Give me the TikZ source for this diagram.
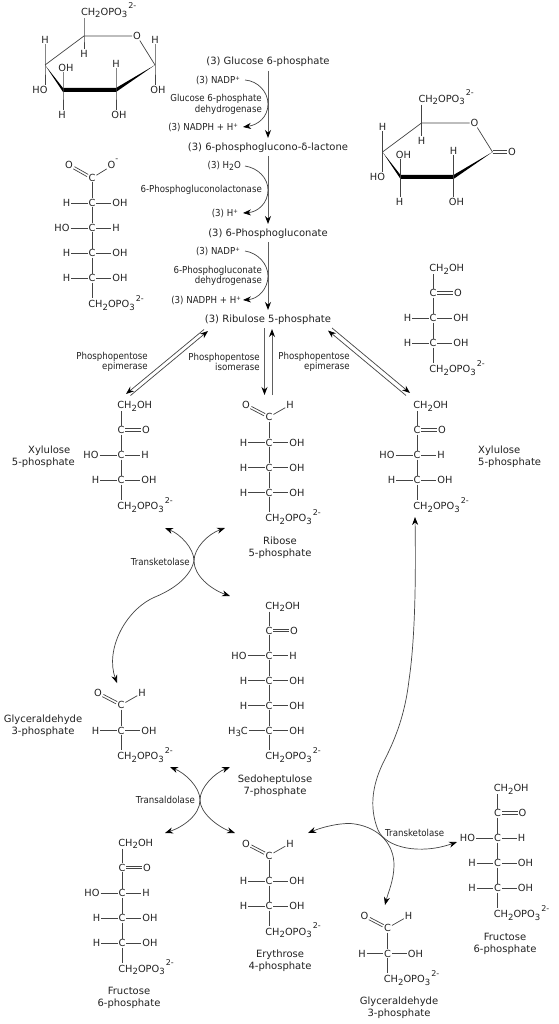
\documentclass[tikz,border=0pt]{standalone}
\usepackage{fontspec}
\usetikzlibrary{arrows.meta,calc}
\setmainfont{DejaVu Sans}
\newfontfamily\enzfont[FakeStretch=0.9]{DejaVu Sans}
\definecolor{ink}{HTML}{222222}
\definecolor{bondc}{HTML}{444444}
\definecolor{shaft}{HTML}{606060}
\newcommand\lo[1]{\raisebox{-2.5pt}{\fontsize{8.5}{8.5}\selectfont #1}}
\newcommand\hi[1]{\raisebox{6.5pt}{\fontsize{8}{8}\selectfont #1}}
\newcommand\hs[1]{\raisebox{3pt}{\fontsize{6}{6}\selectfont #1}}
\newcommand\CHP{CH\lo{2}OPO\lo{3}\kern1pt\hi{2-}}
\tikzset{
  >={Stealth[length=8pt,width=6pt,black]},
  atom/.style={inner sep=1pt,outer sep=0pt,text height=7pt,text depth=0pt,text=ink,font=\fontsize{9.8}{9.8}\selectfont},
  bond/.style={draw=bondc,line width=0.7pt},
  main/.style={inner sep=0pt,yshift=-1pt,text=ink,font=\fontsize{10}{12}\selectfont},
  name2/.style={inner sep=0pt,yshift=-1pt,text=ink,align=center,font=\fontsize{10}{12}\selectfont},
  enz/.style={inner sep=0pt,text=ink,align=right,font=\enzfont\fontsize{9.6}{10.5}\selectfont},
  side/.style={inner sep=0pt,text=ink,font=\enzfont\fontsize{9.6}{10.5}\selectfont},
  longarrow/.style={draw=shaft,line width=1pt,->},
  thinarrow/.style={draw=bondc,line width=0.7pt},
}
% double bonds: horizontal, and rising to the upper left
\newcommand\dblH[2]{\draw[bond,transform canvas={yshift=1.3pt}] (#1) -- (#2); \draw[bond,transform canvas={yshift=-1.3pt}] (#1) -- (#2);}
\newcommand\dblD[2]{\draw[bond,transform canvas={xshift=0.6pt,yshift=1.1pt}] (#1) -- (#2); \draw[bond,transform canvas={xshift=-0.6pt,yshift=-1.1pt}] (#1) -- (#2);}
% atoms and rows
\newcommand\chTop[3]{\node[atom,anchor=west] (#1) at (#2-4.6,#3) {CH\lo{2}OH}; \coordinate (#1b) at (#2,#3+6);}
\newcommand\chEnd[3]{\node[atom,anchor=west] (#1) at (#2-4.6,#3) {\CHP}; \coordinate (#1t) at (#2,#3-6);}
\newcommand\chKeto[3]{\node[atom] (#1) at (#2,#3) {C}; \node[atom] (#1o) at (#2+25,#3) {O}; \dblH{#1}{#1o}}
\newcommand\chAld[3]{\node[atom] (#1) at (#2,#3) {C}; \node[atom] (#1o) at (#2-23,#3-12) {O}; \node[atom] (#1h) at (#2+21,#3-12) {H}; \dblD{#1}{#1o} \draw[bond] (#1) -- (#1h);}
\newcommand\chHOH[3]{\node[atom] (#1) at (#2,#3) {C}; \node[atom] (#1l) at (#2-25.5,#3) {H}; \node[atom] (#1r) at (#2+28,#3) {OH}; \draw[bond] (#1l) -- (#1) -- (#1r);}
\newcommand\chOHH[3]{\node[atom] (#1) at (#2,#3) {C}; \node[atom] (#1l) at (#2-30,#3) {HO}; \node[atom] (#1r) at (#2+24,#3) {H}; \draw[bond] (#1l) -- (#1) -- (#1r);}
\newcommand\chMeth[3]{\node[atom] (#1) at (#2,#3) {C}; \node[atom] (#1l) at (#2-31,#3) {H\lo{3}C}; \node[atom] (#1r) at (#2+28,#3) {OH}; \draw[bond] (#1l) -- (#1) -- (#1r);}
\begin{document}
\begin{tikzpicture}[x=1pt,y=-1pt]
\path[use as bounding box,fill=white] (0,0) rectangle (558,1024);

% ---- glucose 6-phosphate ring
\begin{scope}
  \fill[black] (45,65) -- (63,88) -- (116,88) -- (155,65) -- (116,92) -- (63,92) -- cycle;
  \coordinate (ga5) at (84,36); \coordinate (ga1) at (155,65); \coordinate (ga2) at (116,90);
  \coordinate (ga3) at (63,90); \coordinate (ga4) at (45,65);
  \node[atom] (gaO) at (137,36) {O};
  \node[atom,anchor=west] (gaCH) at (80,12) {\CHP};
  \coordinate (gaCHb) at (84,18);
  \node[atom] (gaH5) at (84,54) {H};
  \node[atom] (gaH4) at (45,40) {H};
  \node[atom] (gaHO4) at (40,90) {HO};
  \node[atom] (gaOH3) at (66,68) {OH};
  \node[atom] (gaH3) at (62,115) {H};
  \node[atom] (gaH2) at (116,64) {H};
  \node[atom] (gaOH2) at (119,115) {OH};
  \node[atom] (gaH1) at (155,40) {H};
  \node[atom] (gaOH1) at (158,90) {OH};
  \draw[bond] (ga4) -- (ga5) -- (gaO) -- (ga1);
  \draw[bond] (gaCHb) -- (ga5) -- (gaH5);
  \draw[bond] (gaH4.south -| ga4) -- (ga4) -- (gaHO4.north -| ga4);
  \draw[bond] (gaOH3.south -| ga3) -- (ga3) -- (gaH3.north -| ga3);
  \draw[bond] (gaH2.south -| ga2) -- (ga2) -- (gaOH2.north -| ga2);
  \draw[bond] (gaH1.south -| ga1) -- (ga1) -- (gaOH1.north -| ga1);
\end{scope}

% ---- lactone ring
\begin{scope}[shift={(337.5,87)}]
  \fill[black] (45,65) -- (63,88) -- (116,88) -- (155,65) -- (116,92) -- (63,92) -- cycle;
  \coordinate (la5) at (84,36); \coordinate (la1) at (155,65); \coordinate (la2) at (116,90);
  \coordinate (la3) at (63,90); \coordinate (la4) at (45,65);
  \node[atom] (laO) at (137,36) {O};
  \node[atom] (laOd) at (174.5,65) {O};
  \node[atom,anchor=west] (laCH) at (80,12) {\CHP};
  \coordinate (laCHb) at (84,18);
  \node[atom] (laH5) at (84,54) {H};
  \node[atom] (laH4) at (45,40) {H};
  \node[atom] (laHO4) at (40,90) {HO};
  \node[atom] (laOH3) at (66,68) {OH};
  \node[atom] (laH3) at (62,115) {H};
  \node[atom] (laH2) at (116,64) {H};
  \node[atom] (laOH2) at (119,115) {OH};
  \draw[bond] (la4) -- (la5) -- (laO) -- (la1);
  \dblH{la1}{laOd}
  \draw[bond] (laCHb) -- (la5) -- (laH5);
  \draw[bond] (laH4.south -| la4) -- (la4) -- (laHO4.north -| la4);
  \draw[bond] (laOH3.south -| la3) -- (la3) -- (laH3.north -| la3);
  \draw[bond] (laH2.south -| la2) -- (la2) -- (laOH2.north -| la2);
\end{scope}

% ---- 6-phosphogluconate
\node[atom] (pgc1) at (92,178) {C};
\node[atom] (pgO) at (69,165) {O};
\node[atom] (pgOm) at (113,165) {O\hi{-}};
\dblD{pgc1}{pgO}
\draw[bond] (pgc1) -- (pgOm);
\chHOH{pgc2}{92}{203}\chOHH{pgc3}{92}{228}\chHOH{pgc4}{92}{253}\chHOH{pgc5}{92}{278}\chEnd{pgc6}{92}{304}
\draw[bond] (pgc1) -- (pgc2) -- (pgc3) -- (pgc4) -- (pgc5) -- (pgc6t);

% ---- ribulose 5-phosphate
\chTop{ru1}{433}{268}\chKeto{ru2}{433}{293}\chHOH{ru3}{433}{318}\chHOH{ru4}{433}{343}\chEnd{ru5}{433}{369}
\draw[bond] (ru1b) -- (ru2) -- (ru3) -- (ru4) -- (ru5t);

% ---- xylulose left
\chTop{xa1}{121}{405}\chKeto{xa2}{121}{430}\chOHH{xa3}{121}{455}\chHOH{xa4}{121}{480}\chEnd{xa5}{121}{506}
\draw[bond] (xa1b) -- (xa2) -- (xa3) -- (xa4) -- (xa5t);

% ---- ribose
\chAld{ri1}{269}{417}\chHOH{ri2}{269}{442.5}\chHOH{ri3}{269}{467.5}\chHOH{ri4}{269}{492.5}\chEnd{ri5}{269}{518}
\draw[bond] (ri1) -- (ri2) -- (ri3) -- (ri4) -- (ri5t);

% ---- xylulose right
\chTop{xb1}{417}{405}\chKeto{xb2}{417}{430}\chOHH{xb3}{417}{455}\chHOH{xb4}{417}{480}\chEnd{xb5}{417}{506}
\draw[bond] (xb1b) -- (xb2) -- (xb3) -- (xb4) -- (xb5t);

% ---- sedoheptulose
\chTop{se1}{269}{605.5}\chKeto{se2}{269}{630.5}\chOHH{se3}{269}{655.5}\chHOH{se4}{269}{680.5}\chHOH{se5}{269}{705.5}\chMeth{se6}{269}{730.5}\chEnd{se7}{269}{756}
\draw[bond] (se1b) -- (se2) -- (se3) -- (se4) -- (se5) -- (se6) -- (se7t);

% ---- glyceraldehyde left
\chAld{gc1}{121}{705}\chHOH{gc2}{121}{730.5}\chEnd{gc3}{121}{756}
\draw[bond] (gc1) -- (gc2) -- (gc3t);

% ---- fructose left
\chTop{fa1}{122}{842.5}\chKeto{fa2}{122}{867.5}\chOHH{fa3}{122}{893}\chHOH{fa4}{122}{918}\chHOH{fa5}{122}{943}\chEnd{fa6}{122}{968.5}
\draw[bond] (fa1b) -- (fa2) -- (fa3) -- (fa4) -- (fa5) -- (fa6t);

% ---- erythrose
\chAld{er1}{269}{855.5}\chHOH{er2}{269}{881}\chHOH{er3}{269}{906}\chEnd{er4}{269}{931.5}
\draw[bond] (er1) -- (er2) -- (er3) -- (er4t);

% ---- fructose right
\chTop{fb1}{497.5}{788}\chKeto{fb2}{497.5}{813}\chOHH{fb3}{497.5}{838}\chHOH{fb4}{497.5}{863}\chHOH{fb5}{497.5}{888}\chEnd{fb6}{497.5}{914}
\draw[bond] (fb1b) -- (fb2) -- (fb3) -- (fb4) -- (fb5) -- (fb6t);

% ---- glyceraldehyde bottom
\chAld{gb1}{387.5}{928}\chHOH{gb2}{387.5}{953.5}\chEnd{gb3}{387.5}{979}
\draw[bond] (gb1) -- (gb2) -- (gb3t);

% ---- main line labels
\node[main] (glc) at (268,61) {(3) Glucose 6-phosphate};
\node[main] (lac) at (268,147) {(3) 6-phosphoglucono-δ-lactone};
\node[main] (pgn) at (268,233) {(3) 6-Phosphogluconate};
\node[main] (rul) at (268,319) {(3) Ribulose 5-phosphate};
\coordinate (m1a) at (268,71); \coordinate (m1b) at (268,138);
\coordinate (m2a) at (268,156); \coordinate (m2b) at (268,224);
\coordinate (m3a) at (268,242); \coordinate (m3b) at (268,310);
\draw[longarrow] (m1a) -- (m1b);
\draw[longarrow] (m2a) -- (m2b);
\draw[longarrow] (m3a) -- (m3b);

% ---- side reactants
\node[side,anchor=east] (s1a) at (240,80) {(3) NADP\hs{+}};
\node[side,anchor=east] (s1b) at (238,127) {(3) NADPH + H\hs{+}};
\node[enz,anchor=east] (e1) at (262,104.5) {Glucose 6-phosphate\\dehydrogenase};
\node[side,anchor=east] (s2a) at (241,166) {(3) H\lo{2}O};
\node[side,anchor=east] (s2b) at (238,213) {(3) H\hs{+}};
\node[enz,anchor=east] (e2) at (262,190) {6-Phosphogluconolactonase};
\node[side,anchor=east] (s3a) at (240,251) {(3) NADP\hs{+}};
\node[side,anchor=east] (s3b) at (241,300) {(3) NADPH + H\hs{+}};
\node[enz,anchor=east] (e3) at (262,276) {6-Phosphogluconate\\dehydrogenase};
\draw[thinarrow,->] ([xshift=5pt]s1a.east) .. controls (258,81) and (268,92) .. (268,104) .. controls (268,117) and (258,125) .. ([xshift=5pt]s1b.east);
\draw[thinarrow,->] ([xshift=4pt]s2a.east) .. controls (258,168) and (268,178) .. (268,190) .. controls (268,203) and (258,212) .. ([xshift=5pt]s2b.east);
\draw[thinarrow,->] ([xshift=5pt]s3a.east) .. controls (258,253) and (268,264) .. (268,276) .. controls (268,289) and (258,299) .. ([xshift=2pt]s3b.east);

% ---- ribulose to pentoses
\coordinate (aL1) at (204,329.5); \coordinate (aL2) at (126,394);
\coordinate (bL1) at (208,331); \coordinate (bL2) at (130.5,395.5);
\draw[thinarrow,->] (aL1) -- (aL2);
\draw[thinarrow,->] (bL2) -- (bL1);
\coordinate (aC1) at (264.5,328); \coordinate (aC2) at (264.5,395);
\coordinate (bC1) at (272,329); \coordinate (bC2) at (272,395);
\draw[longarrow] (aC1) -- (aC2);
\draw[longarrow] (bC2) -- (bC1);
\coordinate (aR1) at (328,330.5); \coordinate (aR2) at (406,395.5);
\coordinate (bR1) at (332,328); \coordinate (bR2) at (410,393);
\draw[thinarrow,->] (aR2) -- (aR1);
\draw[thinarrow,->] (bR1) -- (bR2);
\node[enz,anchor=east] (eL) at (148,362) {Phosphopentose\\epimerase};
\node[enz,anchor=east] (eC) at (260,362) {Phosphopentose\\isomerase};
\node[enz,anchor=east] (eR) at (350,362) {Phosphopentose\\epimerase};

% ---- compound names
\node[name2,align=right,anchor=east] (nXa) at (75,456) {Xylulose\hspace*{4.5pt}\\5-phosphate};
\node[name2,align=left,anchor=west] (nXb) at (478,456) {Xylulose\\5-phosphate};
\node[name2] (nRi) at (280,547) {Ribose\\5-phosphate};
\node[name2] (nGa) at (43,725) {Glyceraldehyde\\3-phosphate};
\node[name2] (nSe) at (275,785) {Sedoheptulose\\7-phosphate};
\node[name2] (nEr) at (280,960) {Erythrose\\4-phosphate};
\node[name2] (nFa) at (129,997) {Fructose\\6-phosphate};
\node[name2] (nFb) at (505,943) {Fructose\\6-phosphate};
\node[name2] (nGb) at (399,1007) {Glyceraldehyde\\3-phosphate};

% ---- transketolase upper
\node[enz,anchor=east] (tk1) at (190,562) {Transketolase};
\coordinate (t1a) at (165,528); \coordinate (t1b) at (230,596);
\coordinate (t2a) at (225,528); \coordinate (t2b) at (117,683);
\draw[thinarrow,<->] (t1a) .. controls (180,534) and (194,548) .. (194,561) .. controls (194,575) and (210,589) .. (t1b);
\draw[thinarrow,<->] (t2a) .. controls (208,534) and (194,548) .. (194,561) .. controls (190,578) and (172,590) .. (155,597) .. controls (125,610) and (105,650) .. (t2b);

% ---- transaldolase
\node[enz,anchor=east] (ta) at (195,800) {Transaldolase};
\coordinate (t3a) at (170,767); \coordinate (t3b) at (235,833);
\coordinate (t4a) at (230,767); \coordinate (t4b) at (165,833);
\draw[thinarrow,<->] (t3a) .. controls (185,773) and (200,787) .. (200,800) .. controls (200,813) and (218,827) .. (t3b);
\draw[thinarrow,<->] (t4a) .. controls (215,773) and (200,787) .. (200,800) .. controls (200,815) and (183,827) .. (t4b);

% ---- transketolase lower
\node[enz,anchor=west] (tk2) at (385,833) {Transketolase};
\coordinate (t5a) at (415,517); \coordinate (t5b) at (457,842);
\coordinate (t6a) at (308,833); \coordinate (t6b) at (385,905);
\draw[thinarrow,<->] (t5a) .. controls (416,580) and (415,640) .. (409,680) .. controls (405,715) and (395,740) .. (383,763) .. controls (374,782) and (368,805) .. (378,830) .. controls (386,848) and (420,855) .. (t5b);
\draw[thinarrow,<->] (t6a) .. controls (325,826) and (345,822) .. (355,824) .. controls (380,828) and (394,845) .. (394,865) .. controls (394,880) and (388,893) .. (t6b);
\end{tikzpicture}
\end{document}
